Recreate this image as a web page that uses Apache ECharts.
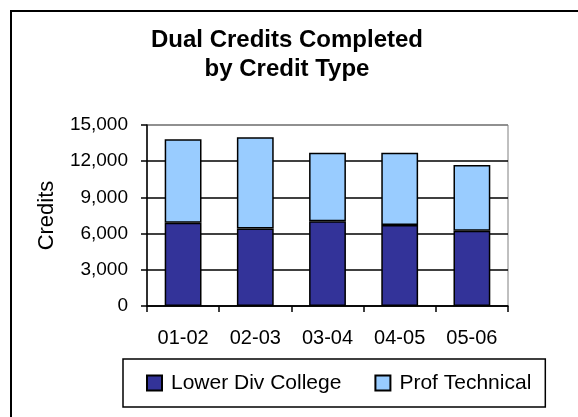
<!DOCTYPE html>
<html><head><meta charset="utf-8">
<script src="https://cdn.jsdelivr.net/npm/echarts@6/dist/echarts.min.js"></script>
<style>html,body{margin:0;padding:0;background:#fff}#c{width:578px;height:417px}</style>
</head><body><div id="c"></div>
<script>
const categories = ['01-02', '02-03', '03-04', '04-05', '05-06'];
const lowerDivCollege = [6890, 6430, 7030, 6720, 6230];
const profTechnical = [6920, 7550, 5670, 5980, 5450];
const yTicks = [0, 3000, 6000, 9000, 12000, 15000];
const titleText = 'Dual Credits Completed\nby Credit Type';
const yAxisName = 'Credits';
const seriesNames = ['Lower Div College', 'Prof Technical'];

const FONT = 'Arial, "Liberation Sans", sans-serif';

const chart = echarts.init(document.getElementById('c'), null, {renderer: 'canvas'});
chart.setOption({
  animation: false,
  backgroundColor: '#fff',
  title: {
    text: titleText,
    left: 287, top: 26, textAlign: 'center', padding: 0,
    textStyle: {fontFamily: FONT, fontWeight: 'bold', fontSize: 24, lineHeight: 29, color: '#000'}
  },
  graphic: [{
    type: 'rect', shape: {x: 11, y: 11, width: 620, height: 460},
    style: {fill: 'none', stroke: '#000', lineWidth: 2}, silent: true, z: 100
  }],
  grid: {left: 147, right: 70, top: 125, bottom: 111, show: true, borderColor: '#808080', borderWidth: 1, backgroundColor: 'transparent'},
  legend: {
    data: seriesNames,
    left: 123, top: 359,
    padding: [13, 14, 13, 23],
    itemGap: 33, itemWidth: 15, itemHeight: 15,
    icon: 'rect',
    borderColor: '#000', borderWidth: 1.5,
    textStyle: {fontFamily: FONT, fontSize: 21, lineHeight: 22, color: '#000', padding: [0, 0, 0, 4]}
  },
  xAxis: {
    type: 'category', data: categories,
    axisLine: {lineStyle: {color: '#000', width: 1.5}},
    axisTick: {show: true, inside: false, length: 6, lineStyle: {color: '#000', width: 1.5}},
    axisLabel: {color: '#000', fontFamily: FONT, fontSize: 20, margin: 22}
  },
  yAxis: {
    type: 'value', min: 0, max: 15000, interval: 3000,
    name: yAxisName, nameLocation: 'middle', nameGap: 89, nameRotate: 90,
    nameTextStyle: {fontFamily: FONT, fontSize: 22, color: '#000'},
    axisLine: {show: true, lineStyle: {color: '#000', width: 1.5}},
    axisTick: {show: true, inside: false, length: 6, lineStyle: {color: '#000', width: 1.5}},
    axisLabel: {color: '#000', fontFamily: FONT, fontSize: 19, margin: 19,
      formatter: v => yTicks.includes(v) ? v.toLocaleString('en-US') : ''},
    splitLine: {show: true, lineStyle: {color: ['#000', '#000', '#000', '#000', '#000', '#808080'], width: 1.5}}
  },
  series: [
    {name: seriesNames[0], type: 'bar', stack: 't', data: lowerDivCollege, barWidth: '51%',
     itemStyle: {color: '#333399', borderColor: '#000', borderWidth: 1.5}},
    {name: seriesNames[1], type: 'bar', stack: 't', data: profTechnical, barWidth: '51%',
     itemStyle: {color: '#99CCFF', borderColor: '#000', borderWidth: 1.5}}
  ]
});
</script></body></html>
